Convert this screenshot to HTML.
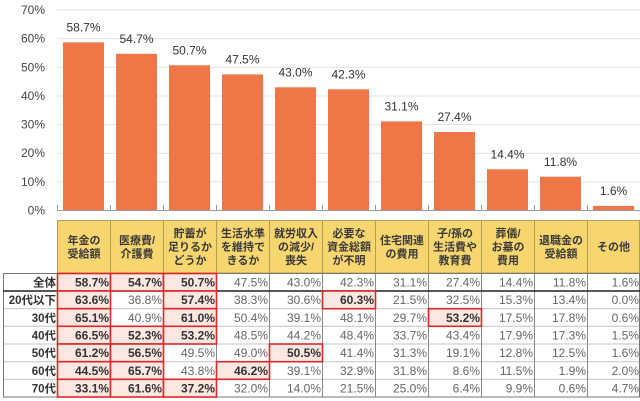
<!DOCTYPE html>
<html><head><meta charset="utf-8"><style>
html,body{margin:0;padding:0;background:#fff;}
svg{display:block;}
text{font-family:"Liberation Sans","Noto Sans CJK JP",sans-serif;}
.yl{font-size:12px;fill:#444;text-anchor:end;}
.bl{font-size:12px;fill:#333;text-anchor:middle;}
.hd{font-size:11px;font-weight:bold;fill:#3a3a3a;text-anchor:middle;font-family:"Liberation Sans","Noto Sans CJK JP",sans-serif;}
.v{font-size:12px;fill:#666;text-anchor:end;}
.vb{font-size:12px;font-weight:bold;fill:#333;text-anchor:end;}
.rl{font-size:11.5px;font-weight:bold;fill:#333;text-anchor:end;}
</style></head><body>
<svg width="640" height="401" viewBox="0 0 640 401" xmlns="http://www.w3.org/2000/svg">
<!-- gridlines -->
<g stroke="#e2e2e2" stroke-width="1">
<line x1="57" x2="640" y1="10" y2="10"/>
<line x1="57" x2="640" y1="38.7" y2="38.7"/>
<line x1="57" x2="640" y1="67.3" y2="67.3"/>
<line x1="57" x2="640" y1="96" y2="96"/>
<line x1="57" x2="640" y1="124.6" y2="124.6"/>
<line x1="57" x2="640" y1="153.2" y2="153.2"/>
<line x1="57" x2="640" y1="181.9" y2="181.9"/>
</g>
<g class="yl">
<text class="yl" x="45" y="14">70%</text>
<text class="yl" x="45" y="42.7">60%</text>
<text class="yl" x="45" y="71.3">50%</text>
<text class="yl" x="45" y="100">40%</text>
<text class="yl" x="45" y="128.6">30%</text>
<text class="yl" x="45" y="157.2">20%</text>
<text class="yl" x="45" y="185.9">10%</text>
<text class="yl" x="45" y="214.5">0%</text>
</g>
<!-- bars -->
<g fill="#EE7647">
<rect x="63" y="42.4" width="41" height="168.1"/>
<rect x="116" y="53.8" width="41" height="156.7"/>
<rect x="169" y="65.3" width="41" height="145.2"/>
<rect x="222" y="74.4" width="41" height="136.1"/>
<rect x="275" y="87.3" width="41" height="123.2"/>
<rect x="328" y="89.3" width="41" height="121.2"/>
<rect x="381" y="121.4" width="41" height="89.1"/>
<rect x="434" y="132" width="41" height="78.5"/>
<rect x="487" y="169.3" width="41" height="41.2"/>
<rect x="540" y="176.7" width="41" height="33.8"/>
<rect x="593" y="205.9" width="41" height="4.6"/>
</g>
<g>
<text class="bl" x="83.5" y="31.6">58.7%</text>
<text class="bl" x="136.5" y="43">54.7%</text>
<text class="bl" x="189.5" y="54.5">50.7%</text>
<text class="bl" x="242.5" y="63.6">47.5%</text>
<text class="bl" x="295.5" y="76.5">43.0%</text>
<text class="bl" x="348.5" y="78.5">42.3%</text>
<text class="bl" x="401.5" y="110.6">31.1%</text>
<text class="bl" x="454.5" y="121.2">27.4%</text>
<text class="bl" x="507.5" y="158.5">14.4%</text>
<text class="bl" x="560.5" y="165.9">11.8%</text>
<text class="bl" x="613.5" y="195.1">1.6%</text>
</g>
<!-- axis -->
<line x1="57" x2="640" y1="210.5" y2="210.5" stroke="#999" stroke-width="1"/>
<g stroke="#999" stroke-width="1">
<line x1="57.5" x2="57.5" y1="205" y2="211"/>
<line x1="110.5" x2="110.5" y1="205" y2="211"/>
<line x1="163.5" x2="163.5" y1="205" y2="211"/>
<line x1="216.5" x2="216.5" y1="205" y2="211"/>
<line x1="269.5" x2="269.5" y1="205" y2="211"/>
<line x1="322.5" x2="322.5" y1="205" y2="211"/>
<line x1="375.5" x2="375.5" y1="205" y2="211"/>
<line x1="428.5" x2="428.5" y1="205" y2="211"/>
<line x1="481.5" x2="481.5" y1="205" y2="211"/>
<line x1="534.5" x2="534.5" y1="205" y2="211"/>
<line x1="587.5" x2="587.5" y1="205" y2="211"/>
</g>
<!-- header -->
<g fill="#F8D66F" stroke="#B29C58" stroke-width="1">
<rect x="57.5" y="220.5" width="53" height="52.5"/>
<rect x="110.5" y="220.5" width="53" height="52.5"/>
<rect x="163.5" y="220.5" width="53" height="52.5"/>
<rect x="216.5" y="220.5" width="53" height="52.5"/>
<rect x="269.5" y="220.5" width="53" height="52.5"/>
<rect x="322.5" y="220.5" width="53" height="52.5"/>
<rect x="375.5" y="220.5" width="53" height="52.5"/>
<rect x="428.5" y="220.5" width="53" height="52.5"/>
<rect x="481.5" y="220.5" width="53" height="52.5"/>
<rect x="534.5" y="220.5" width="53" height="52.5"/>
<rect x="587.5" y="220.5" width="52" height="52.5"/>
</g>
<g>
<text class="hd" x="84" y="244">年金の</text><text class="hd" x="84" y="257.5">受給額</text>
<text class="hd" x="137" y="244">医療費/</text><text class="hd" x="137" y="257.5">介護費</text>
<text class="hd" x="190" y="237">貯蓄が</text><text class="hd" x="190" y="250.5">足りるか</text><text class="hd" x="190" y="264">どうか</text>
<text class="hd" x="243" y="237">生活水準</text><text class="hd" x="243" y="250.5">を維持で</text><text class="hd" x="243" y="264">きるか</text>
<text class="hd" x="296" y="237">就労収入</text><text class="hd" x="296" y="250.5">の減少/</text><text class="hd" x="296" y="264">喪失</text>
<text class="hd" x="349" y="237">必要な</text><text class="hd" x="349" y="250.5">資金総額</text><text class="hd" x="349" y="264">が不明</text>
<text class="hd" x="402" y="244">住宅関連</text><text class="hd" x="402" y="257.5">の費用</text>
<text class="hd" x="455" y="237">子/孫の</text><text class="hd" x="455" y="250.5">生活費や</text><text class="hd" x="455" y="264">教育費</text>
<text class="hd" x="508" y="237">葬儀/</text><text class="hd" x="508" y="250.5">お墓の</text><text class="hd" x="508" y="264">費用</text>
<text class="hd" x="561" y="244">退職金の</text><text class="hd" x="561" y="257.5">受給額</text>
<text class="hd" x="613.5" y="250.5">その他</text>
</g>
<!-- table body grid -->
<g stroke="#c4c4c4" stroke-width="1">
<line x1="3" x2="640" y1="308.7" y2="308.7"/>
<line x1="3" x2="640" y1="326.3" y2="326.3"/>
<line x1="3" x2="640" y1="344" y2="344"/>
<line x1="3" x2="640" y1="361.7" y2="361.7"/>
<line x1="3" x2="640" y1="379.3" y2="379.3"/>
</g>
<g stroke="#888" stroke-width="1">
<line x1="57.5" x2="57.5" y1="273" y2="397"/>
<line x1="110.5" x2="110.5" y1="273" y2="397"/>
<line x1="163.5" x2="163.5" y1="273" y2="397"/>
<line x1="216.5" x2="216.5" y1="273" y2="397"/>
<line x1="269.5" x2="269.5" y1="273" y2="397"/>
<line x1="322.5" x2="322.5" y1="273" y2="397"/>
<line x1="375.5" x2="375.5" y1="273" y2="397"/>
<line x1="428.5" x2="428.5" y1="273" y2="397"/>
<line x1="481.5" x2="481.5" y1="273" y2="397"/>
<line x1="534.5" x2="534.5" y1="273" y2="397"/>
<line x1="587.5" x2="587.5" y1="273" y2="397"/>
</g>
<rect x="3.5" y="273.5" width="636" height="123.5" fill="none" stroke="#777" stroke-width="1"/>
<line x1="3" x2="640" y1="291" y2="291" stroke="#222" stroke-width="1.6"/>
<!-- highlights -->
<g fill="#FCE7E1" stroke="#D82A2A" stroke-width="1.6">
<rect x="57.5" y="273.5" width="53" height="17.5"/>
<rect x="110.5" y="273.5" width="53" height="17.5"/>
<rect x="163.5" y="273.5" width="53" height="17.5"/>
<rect x="57.5" y="291" width="53" height="17.7"/>
<rect x="163.5" y="291" width="53" height="17.7"/>
<rect x="322.5" y="291" width="53" height="17.7"/>
<rect x="57.5" y="308.7" width="53" height="17.6"/>
<rect x="163.5" y="308.7" width="53" height="17.6"/>
<rect x="428.5" y="308.7" width="53" height="17.6"/>
<rect x="57.5" y="326.3" width="53" height="17.7"/>
<rect x="110.5" y="326.3" width="53" height="17.7"/>
<rect x="163.5" y="326.3" width="53" height="17.7"/>
<rect x="57.5" y="344" width="53" height="17.7"/>
<rect x="110.5" y="344" width="53" height="17.7"/>
<rect x="269.5" y="344" width="53" height="17.7"/>
<rect x="57.5" y="361.7" width="53" height="17.6"/>
<rect x="110.5" y="361.7" width="53" height="17.6"/>
<rect x="216.5" y="361.7" width="53" height="17.6"/>
<rect x="57.5" y="379.3" width="53" height="17.7"/>
<rect x="110.5" y="379.3" width="53" height="17.7"/>
<rect x="163.5" y="379.3" width="53" height="17.7"/>
</g>
<!-- row labels -->
<g>
<text class="rl" x="56" y="286.5">全体</text>
<text class="rl" x="56" y="304.2">20代以下</text>
<text class="rl" x="56" y="321.8">30代</text>
<text class="rl" x="56" y="339.5">40代</text>
<text class="rl" x="56" y="357.2">50代</text>
<text class="rl" x="56" y="374.8">60代</text>
<text class="rl" x="56" y="392.5">70代</text>
</g>
<!-- values row 全体 -->
<g>
<text class="vb" x="109" y="286.5">58.7%</text><text class="vb" x="162" y="286.5">54.7%</text><text class="vb" x="215" y="286.5">50.7%</text><text class="v" x="268" y="286.5">47.5%</text><text class="v" x="321" y="286.5">43.0%</text><text class="v" x="374" y="286.5">42.3%</text><text class="v" x="427" y="286.5">31.1%</text><text class="v" x="480" y="286.5">27.4%</text><text class="v" x="533" y="286.5">14.4%</text><text class="v" x="586" y="286.5">11.8%</text><text class="v" x="639" y="286.5">1.6%</text>
</g>
<g>
<text class="vb" x="109" y="304.2">63.6%</text><text class="v" x="162" y="304.2">36.8%</text><text class="vb" x="215" y="304.2">57.4%</text><text class="v" x="268" y="304.2">38.3%</text><text class="v" x="321" y="304.2">30.6%</text><text class="vb" x="374" y="304.2">60.3%</text><text class="v" x="427" y="304.2">21.5%</text><text class="v" x="480" y="304.2">32.5%</text><text class="v" x="533" y="304.2">15.3%</text><text class="v" x="586" y="304.2">13.4%</text><text class="v" x="639" y="304.2">0.0%</text>
</g>
<g>
<text class="vb" x="109" y="321.8">65.1%</text><text class="v" x="162" y="321.8">40.9%</text><text class="vb" x="215" y="321.8">61.0%</text><text class="v" x="268" y="321.8">50.4%</text><text class="v" x="321" y="321.8">39.1%</text><text class="v" x="374" y="321.8">48.1%</text><text class="v" x="427" y="321.8">29.7%</text><text class="vb" x="480" y="321.8">53.2%</text><text class="v" x="533" y="321.8">17.5%</text><text class="v" x="586" y="321.8">17.8%</text><text class="v" x="639" y="321.8">0.6%</text>
</g>
<g>
<text class="vb" x="109" y="339.5">66.5%</text><text class="vb" x="162" y="339.5">52.3%</text><text class="vb" x="215" y="339.5">53.2%</text><text class="v" x="268" y="339.5">48.5%</text><text class="v" x="321" y="339.5">44.2%</text><text class="v" x="374" y="339.5">48.4%</text><text class="v" x="427" y="339.5">33.7%</text><text class="v" x="480" y="339.5">43.4%</text><text class="v" x="533" y="339.5">17.9%</text><text class="v" x="586" y="339.5">17.3%</text><text class="v" x="639" y="339.5">1.5%</text>
</g>
<g>
<text class="vb" x="109" y="357.2">61.2%</text><text class="vb" x="162" y="357.2">56.5%</text><text class="v" x="215" y="357.2">49.5%</text><text class="v" x="268" y="357.2">49.0%</text><text class="vb" x="321" y="357.2">50.5%</text><text class="v" x="374" y="357.2">41.4%</text><text class="v" x="427" y="357.2">31.3%</text><text class="v" x="480" y="357.2">19.1%</text><text class="v" x="533" y="357.2">12.8%</text><text class="v" x="586" y="357.2">12.5%</text><text class="v" x="639" y="357.2">1.6%</text>
</g>
<g>
<text class="vb" x="109" y="374.8">44.5%</text><text class="vb" x="162" y="374.8">65.7%</text><text class="v" x="215" y="374.8">43.8%</text><text class="vb" x="268" y="374.8">46.2%</text><text class="v" x="321" y="374.8">39.1%</text><text class="v" x="374" y="374.8">32.9%</text><text class="v" x="427" y="374.8">31.8%</text><text class="v" x="480" y="374.8">8.6%</text><text class="v" x="533" y="374.8">11.5%</text><text class="v" x="586" y="374.8">1.9%</text><text class="v" x="639" y="374.8">2.0%</text>
</g>
<g>
<text class="vb" x="109" y="392.5">33.1%</text><text class="vb" x="162" y="392.5">61.6%</text><text class="vb" x="215" y="392.5">37.2%</text><text class="v" x="268" y="392.5">32.0%</text><text class="v" x="321" y="392.5">14.0%</text><text class="v" x="374" y="392.5">21.5%</text><text class="v" x="427" y="392.5">25.0%</text><text class="v" x="480" y="392.5">6.4%</text><text class="v" x="533" y="392.5">9.9%</text><text class="v" x="586" y="392.5">0.6%</text><text class="v" x="639" y="392.5">4.7%</text>
</g>
</svg>
</body></html>
